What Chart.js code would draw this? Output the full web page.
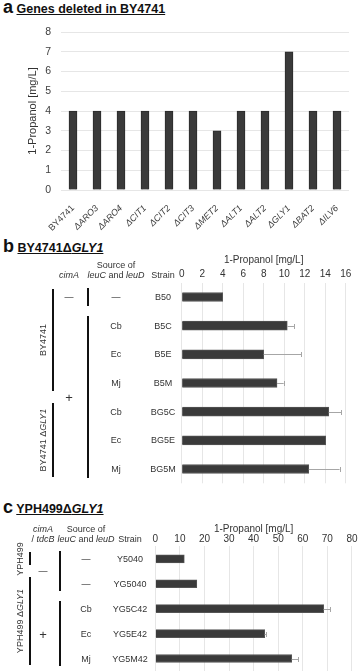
<!DOCTYPE html>
<html>
<head>
<meta charset="utf-8">
<script src="https://cdn.jsdelivr.net/npm/chart.js@4"></script>
<style>
  html, body { margin: 0; padding: 0; background: #fff; }
  #page { position: relative; width: 359px; height: 671px; overflow: hidden;
          font-family: "Liberation Sans", Arial, sans-serif; color: #333; }
  canvas { position: absolute; left: 0; }
  .t { position: absolute; white-space: nowrap; font-size: 9px; line-height: 1;
       transform: translate(-50%, -50%); }
  .rot { transform: translate(-50%, -50%) rotate(-90deg); }
  .vl { position: absolute; width: 2px; background: #111; }
  .head { position: absolute; left: 3px; font-weight: bold; color: #111; white-space: nowrap;
          font-size: 12.5px; line-height: 1; }
  .head .big { font-size: 18px; }
</style>
</head>
<body>
<div id="page">
  <div class="head" style="top:-2.5px"><span class="big">a</span> <u>Genes deleted in BY4741</u></div>
  <div class="head" style="top:236.8px"><span class="big">b</span> <u>BY4741Δ<i>GLY1</i></u></div>
  <div class="head" style="top:497.8px"><span class="big">c</span> <u>YPH499Δ<i>GLY1</i></u></div>

  <canvas id="chartA" width="359" height="230" style="top:14px"></canvas>
  <canvas id="chartB" width="359" height="240" style="top:250px"></canvas>
  <canvas id="chartC" width="359" height="153" style="top:518px"></canvas>

  <!-- column headers -->
  <div class="t" style="left:69px;top:275px"><i>cimA</i></div>
  <div class="t" style="left:116px;top:265px">Source of</div>
  <div class="t" style="left:116px;top:275px"><i>leuC</i> and <i>leuD</i></div>
  <div class="t" style="left:163px;top:275px">Strain</div>

  <div class="t" style="left:43px;top:529px"><i>cimA</i></div>
  <div class="t" style="left:43px;top:539px">/ <i>tdcB</i></div>
  <div class="t" style="left:86px;top:529px">Source of</div>
  <div class="t" style="left:86px;top:539px"><i>leuC</i> and <i>leuD</i></div>
  <div class="t" style="left:130px;top:539px">Strain</div>
</div>

<script>
  // panel a
  const genesA = ['BY4741', 'ΔARO3', 'ΔARO4', 'ΔCIT1', 'ΔCIT2', 'ΔCIT3', 'ΔMET2', 'ΔALT1', 'ΔALT2', 'ΔGLY1', 'ΔBAT2', 'ΔILV6'];
  const propanolA = [4, 4, 4, 4, 4, 4, 3, 4, 4, 7, 4, 4];
  const yMaxA = 8;

  // panel b
  const strainsB = ['B50', 'B5C', 'B5E', 'B5M', 'BG5C', 'BG5E', 'BG5M'];
  const sourceB = ['—', 'Cb', 'Ec', 'Mj', 'Cb', 'Ec', 'Mj'];
  const propanolB = [4.0, 10.3, 8.0, 9.3, 14.35, 14.05, 12.4];
  const errB = [0, 0.65, 3.65, 0.65, 1.2, 0, 3.0];
  const hostB = [['BY4741', 0, 3], ['BY4741 Δ<i>GLY1</i>', 4, 6]];
  const cimaB = [['—', 0, 0], ['+', 1, 6]];
  const xMaxB = 16;

  // panel c
  const strainsC = ['Y5040', 'YG5040', 'YG5C42', 'YG5E42', 'YG5M42'];
  const sourceC = ['—', '—', 'Cb', 'Ec', 'Mj'];
  const propanolC = [11.8, 16.9, 68.5, 44.5, 55.5];
  const errC = [0, 0, 2.6, 0.7, 2.6];
  const hostC = [['YPH499', 0, 0], ['YPH499 Δ<i>GLY1</i>', 1, 4]];
  const cimaC = [['—', 0, 1], ['+', 2, 4]];
  const xMaxC = 80;

  const FONT = '"Liberation Sans", Arial, sans-serif';
  Chart.defaults.font.family = FONT;
  Chart.defaults.color = '#404040';

  const BAR = '#3a3a3a';
  const GRID = '#e6e6e6';

  // only the upper error bar shows, the bar hides the rest
  const errorBars = {
    id: 'errorBars',
    afterDatasetsDraw(chart) {
      const ds = chart.data.datasets[0];
      if (!ds.errors) return;
      const ctx = chart.ctx;
      const xs = chart.scales.x;
      ctx.save();
      ctx.strokeStyle = '#a6a6a6';
      ctx.lineWidth = 1;
      chart.getDatasetMeta(0).data.forEach((bar, i) => {
        const e = ds.errors[i];
        if (!e) return;
        const x0 = xs.getPixelForValue(ds.data[i]);
        const x1 = xs.getPixelForValue(ds.data[i] + e);
        const y = Math.round(bar.y) + 0.5;
        ctx.beginPath();
        ctx.moveTo(x0, y); ctx.lineTo(x1, y);
        ctx.moveTo(Math.round(x1) + 0.5, y - 2.5); ctx.lineTo(Math.round(x1) + 0.5, y + 2.5);
        ctx.stroke();
      });
      ctx.restore();
    }
  };

  new Chart(document.getElementById('chartA'), {
    type: 'bar',
    data: {
      labels: genesA,
      datasets: [{ data: propanolA, backgroundColor: BAR, borderColor: '#2a2a2a', borderWidth: 1, barThickness: 8 }]
    },
    options: {
      responsive: false,
      animation: false,
      layout: { padding: { top: 18, right: 10, left: 0, bottom: 0 } },
      plugins: { legend: { display: false }, tooltip: { enabled: false } },
      scales: {
        x: {
          grid: { display: false },
          border: { display: false },
          afterFit: s => { s.height = 54; },
          ticks: {
            minRotation: 45, maxRotation: 45, padding: 5, color: '#404040',
            font: c => ({ size: 9, family: FONT, style: c.index === 0 ? 'normal' : 'italic' })
          }
        },
        y: {
          min: 0, max: yMaxA,
          afterFit: s => { s.width = 61; },
          grid: { color: GRID, drawTicks: false },
          border: { display: false },
          ticks: { stepSize: 1, padding: 10, font: { size: 10.5 }, color: '#404040' },
          title: { display: true, text: '1-Propanol [mg/L]', font: { size: 11 }, color: '#333', padding: { top: 26, bottom: 0 } }
        }
      }
    }
  });

  function hbarChart(id, labels, values, errors, xMax, step, opt) {
    return new Chart(document.getElementById(id), {
      type: 'bar',
      data: {
        labels: labels,
        datasets: [{ data: values, errors: errors, backgroundColor: BAR, borderColor: '#555', borderWidth: 1,
                     barThickness: opt.bar }]
      },
      plugins: [errorBars],
      options: {
        indexAxis: 'y',
        responsive: false,
        animation: false,
        layout: { padding: { top: 0, left: opt.left, right: opt.right, bottom: opt.bottom } },
        plugins: { legend: { display: false }, tooltip: { enabled: false } },
        scales: {
          x: {
            position: 'top',
            min: 0, max: xMax,
            afterFit: s => { s.height = opt.axisH; },
            grid: { color: GRID, drawTicks: false },
            border: { display: false },
            ticks: { stepSize: step, padding: opt.tickPad, font: { size: 10 }, color: '#333' },
            title: { display: true, text: '1-Propanol [mg/L]', font: { size: 10 }, color: '#333',
                     padding: { top: opt.titlePad, bottom: 0 } }
          },
          y: { display: false }
        }
      }
    });
  }

  const chartB = hbarChart('chartB', strainsB, propanolB, errB, xMaxB, 2,
    { left: 181.7, right: 13.3, bottom: 6.7, axisH: 32.7, tickPad: 2, titlePad: 4, bar: 9 });
  const chartC = hbarChart('chartC', strainsC, propanolC, errC, xMaxC, 10,
    { left: 155.3, right: 6.3, bottom: 0, axisH: 28.4, tickPad: 1.5, titlePad: 5, bar: 8 });

  // table to the left of each chart, placed on the chart's own rows
  const page = document.getElementById('page');
  function addText(html, x, y, cls, size) {
    const d = document.createElement('div');
    d.className = 't' + (cls ? ' ' + cls : '');
    d.style.left = x + 'px';
    d.style.top = y + 'px';
    if (size) d.style.fontSize = size + 'px';
    d.innerHTML = html;
    page.appendChild(d);
  }
  function addLine(x, y0, y1) {
    const d = document.createElement('div');
    d.className = 'vl';
    d.style.left = (x - 1) + 'px';
    d.style.top = y0 + 'px';
    d.style.height = (y1 - y0) + 'px';
    page.appendChild(d);
  }
  function table(chart, top, cols, strains, sources, hosts, cimas) {
    const ys = chart.scales.y;
    const row = i => top + ys.getPixelForValue(i);
    const band = ys.getPixelForValue(1) - ys.getPixelForValue(0);
    strains.forEach((s, i) => addText(s, cols.strain, row(i)));
    sources.forEach((s, i) => addText(s, cols.source, row(i)));
    hosts.forEach(([name, a, b]) => {
      const y0 = row(a) - band / 2 + 6, y1 = row(b) + band / 2 - 6;
      addLine(cols.hostLine, y0, y1);
      addText(name, cols.host, (y0 + y1) / 2, 'rot');
    });
    cimas.forEach(([sym, a, b]) => {
      const y0 = row(a) - band / 2 + 5, y1 = row(b) + band / 2 - 5;
      addLine(cols.cimaLine, y0, y1);
      addText(sym, cols.cima, (row(a) + row(b)) / 2, '', sym === '+' ? 13 : 9);
    });
  }
  table(chartB, 250, { strain: 163, source: 116, cima: 69, cimaLine: 88, host: 43, hostLine: 53 },
        strainsB, sourceB, hostB, cimaB);
  table(chartC, 518, { strain: 130, source: 86, cima: 43, cimaLine: 60, host: 20, hostLine: 30 },
        strainsC, sourceC, hostC, cimaC);
</script>
</body>
</html>
